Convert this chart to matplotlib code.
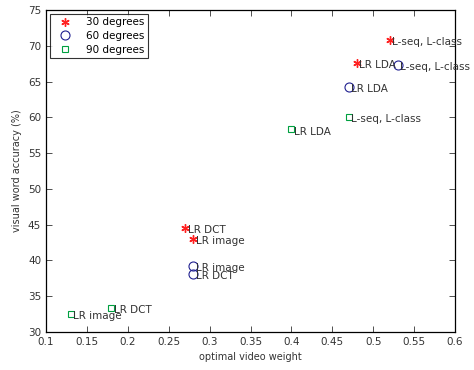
import matplotlib
matplotlib.use("Agg")
import matplotlib.pyplot as plt

x30 = [0.52, 0.48, 0.27, 0.28]
y30 = [70.8, 67.6, 44.5, 43.0]
l30 = ["L-seq, L-class", "LR LDA", "LR DCT", "LR image"]

x60 = [0.53, 0.47, 0.28, 0.28]
y60 = [67.3, 64.3, 39.2, 38.1]
l60 = ["L-seq, L-class", "LR LDA", "LR image", "LR DCT"]

x90 = [0.47, 0.40, 0.18, 0.13]
y90 = [60.0, 58.3, 33.4, 32.5]
l90 = ["L-seq, L-class", "LR LDA", "LR DCT", "LR image"]

xticks = [0.1, 0.15, 0.2, 0.25, 0.3, 0.35, 0.4, 0.45, 0.5, 0.55, 0.6]
yticks = [30, 35, 40, 45, 50, 55, 60, 65, 70, 75]

plt.rcParams['font.family'] = ['DejaVu Sans']
fig = plt.figure(figsize=(4.74, 3.70), dpi=100)
ax = fig.add_axes([0.097, 0.103, 0.863, 0.870])

red = "#ff2020"
blue = "#202090"
green = "#00a040"

ax.plot(x30, y30, linestyle='none', marker=(6, 2, 0), markersize=6, color=red,
        markeredgewidth=1.0, label="30 degrees")
ax.plot(x60, y60, linestyle='none', marker='o', markersize=6.5, markerfacecolor='none',
        markeredgecolor=blue, markeredgewidth=0.8, label="60 degrees")
ax.plot(x90, y90, linestyle='none', marker='s', markersize=5, markerfacecolor='none',
        markeredgecolor=green, markeredgewidth=0.8, label="90 degrees")

for xs, ys, ls in [(x30, y30, l30), (x60, y60, l60), (x90, y90, l90)]:
    for x, y, l in zip(xs, ys, ls):
        ax.text(x + 0.003, y - 0.3, l, fontsize=7.5, color="#333333",
                ha='left', va='center')

ax.set_xlim(0.1, 0.6)
ax.set_ylim(30, 75)
ax.set_xticks(xticks)
ax.set_xticklabels([f"{t:g}" for t in xticks])
ax.set_yticks(yticks)
ax.tick_params(direction='in', top=True, right=True, labelsize=7.5, length=4, width=0.6,
               colors="#333333")
for s in ax.spines.values():
    s.set_linewidth(0.9)
ax.set_xlabel("optimal video weight", fontsize=7, color="#333333")
ax.set_ylabel("visual word accuracy (%)", fontsize=7, color="#333333")

leg = ax.legend(loc='upper left', fontsize=7.5, frameon=True, fancybox=False,
                borderaxespad=0.35, handletextpad=0.9, labelspacing=0.35,
                borderpad=0.35, handlelength=2.2)
leg.get_frame().set_edgecolor('black')
leg.get_frame().set_linewidth(0.8)

fig.savefig("out.png", dpi=100)
